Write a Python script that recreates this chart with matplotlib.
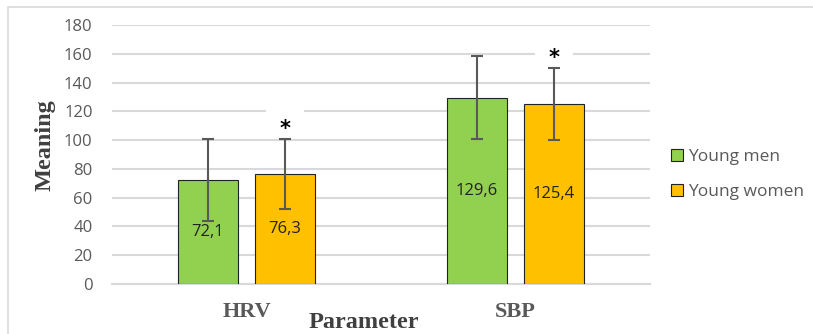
import numpy as np
import matplotlib.pyplot as plt
from matplotlib.patches import Rectangle

categories = ["HRV", "SBP"]
men_values = [72.1, 129.6]
women_values = [76.3, 125.4]
men_err = [28.5, 28.8]
women_err = [24.5, 25.0]
men_labels = ["72,1", "129,6"]
women_labels = ["76,3", "125,4"]
yticks = [0, 20, 40, 60, 80, 100, 120, 140, 160, 180]

GREEN = "#92d050"
ORANGE = "#ffc000"
GRID = "#d9d9d9"
TICK = "#595959"

fig = plt.figure(figsize=(8.13, 3.34), dpi=100)
ax = fig.add_axes([112 / 813, 50 / 334, 538 / 813, 259 / 334])

# outer chart frame
fig.patches.append(Rectangle((8 / 813, -0.1), 1.1, (327 / 334) + 0.1, transform=fig.transFigure,
                             fill=False, edgecolor=GRID, linewidth=1.2))

x = np.arange(len(categories))
w = 0.223
off = (w + 0.063) / 2

ax.bar(x - off, men_values, w, color=GREEN, edgecolor="#222222", linewidth=0.8,
       label="Young men", zorder=3)
ax.bar(x + off, women_values, w, color=ORANGE, edgecolor="#222222", linewidth=0.8,
       label="Young women", zorder=3)
ax.errorbar(x - off, men_values, yerr=men_err, fmt="none", ecolor="#595959",
            elinewidth=1.5, capsize=4, capthick=1.5, zorder=6)
ax.errorbar(x + off, women_values, yerr=women_err, fmt="none", ecolor="#595959",
            elinewidth=1.5, capsize=4, capthick=1.5, zorder=6)

for xi, v, lab in zip(x - off, men_values, men_labels):
    ax.text(xi, v / 2, lab, ha="center", va="center", fontsize=12, color="#222222",
            family="Open Sans", zorder=5)
for xi, v, lab in zip(x + off, women_values, women_labels):
    ax.text(xi, v / 2, lab, ha="center", va="center", fontsize=12, color="#222222",
            family="Open Sans", zorder=5)

# significance marks, with a white label box that interrupts the gridline
for xi, v, e in zip(x + off, women_values, women_err):
    star_y = v + e + 7
    ax.add_patch(Rectangle((xi - 0.069, star_y), 0.138, 15, facecolor="white",
                           edgecolor="none", zorder=1))
    ax.text(xi, star_y, "*", ha="center", va="center", fontsize=15, color="black",
            fontweight="bold", zorder=5)

ax.set_xlim(-0.5, 1.5)
ax.set_ylim(0, 180)
ax.set_yticks(yticks)
ax.set_yticklabels([str(t) for t in yticks], fontsize=12, color=TICK, family="Open Sans")
ax.yaxis.grid(True, color=GRID, linewidth=1.5, zorder=0)
ax.set_axisbelow(True)
ax.tick_params(axis="y", length=0, pad=14)
ax.tick_params(axis="x", length=0, pad=13)
ax.set_xticks(x)
ax.set_xticklabels(categories, fontsize=16, fontweight="bold", color=TICK,
                   family="Liberation Serif")
for s in ["top", "right", "left"]:
    ax.spines[s].set_visible(False)
ax.spines["bottom"].set_color(GRID)
ax.spines["bottom"].set_linewidth(1.5)

fig.text(364 / 813, 1 - 322 / 334, "Parameter", ha="center", va="center", fontsize=17.5,
         fontweight="bold", color="#404040", family="Liberation Serif")
fig.text(45 / 813, 1 - 145 / 334, "Meaning", ha="center", va="center", rotation=90,
         fontsize=17.5, fontweight="bold", color="#404040", family="Liberation Serif")

leg = fig.legend(loc="upper left", bbox_to_anchor=(655 / 813, 1 - 133 / 334), frameon=False,
                 prop={"family": "Open Sans", "size": 12.5}, handlelength=0.7, handleheight=0.7,
                 handletextpad=0.3, labelspacing=1.1)
for t in leg.get_texts():
    t.set_color(TICK)

fig.savefig("out.png", dpi=100)
